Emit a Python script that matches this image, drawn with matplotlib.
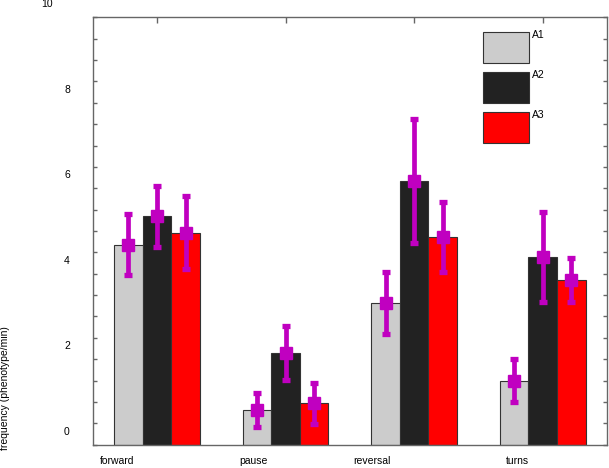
import numpy as np
import matplotlib
matplotlib.use('Agg')
import matplotlib.pyplot as plt
from matplotlib.patches import Rectangle

plt.rcParams['font.family'] = ['Liberation Sans', 'DejaVu Sans']

categories = ['forward', 'pause', 'reversal', 'turns']
series = ['A1', 'A2', 'A3']
a1 = [4.68, 0.81, 3.32, 1.50]
a2 = [5.34, 2.15, 6.17, 4.39]
a3 = [4.96, 0.97, 4.85, 3.85]
a1_err = [0.72, 0.39, 0.73, 0.50]
a2_err = [0.72, 0.63, 1.44, 1.06]
a3_err = [0.86, 0.48, 0.82, 0.52]
ytick_vals = [0, 2, 4, 6, 8, 10]

colors = ['#cccccc', '#222222', '#ff0000']
err_color = '#c000c0'
fs = 7.5

fig = plt.figure(figsize=(6.09, 4.68), dpi=100)
ax = fig.add_axes([0.1522, 0.0498, 0.8445, 0.9132])

x = np.arange(1, len(categories) + 1)
w = 2 / 9
vals = [a1, a2, a3]
errs = [a1_err, a2_err, a3_err]
for i in range(3):
    pos = x + (i - 1) * w
    ax.bar(pos, vals[i], width=w, color=colors[i], edgecolor='#333333',
           linewidth=0.8, zorder=2)
    ax.errorbar(pos, vals[i], yerr=errs[i], fmt='s', color=err_color,
                ms=9, elinewidth=3.4, capsize=3, capthick=3.8, zorder=3)

ax.set_xlim(0.5, 4.5)
ax.set_ylim(0, 10)
ax.set_axisbelow(True)
ax.set_xticks(x)
ax.set_xticklabels([])
ax.set_yticks(np.arange(0, 10.01, 0.5))
ax.set_yticklabels([])
ax.tick_params(axis='x', direction='in', top=True, bottom=True, length=4,
               color='#666666', width=1)
ax.tick_params(axis='y', direction='in', left=True, right=True, length=3,
               color='#666666', width=1)
for s in ax.spines.values():
    s.set_color('#666666')
    s.set_linewidth(1)

# y labels (shifted up relative to the ticks, as in the original)
px = 1 / 514.3
py = 1 / 427.4
for v in ytick_vals:
    xl = -0.089 if v == 10 else -0.050
    ax.text(xl, v / 10 + 13 * py, str(v), transform=ax.transAxes,
            ha='center', va='center', fontsize=fs)

# category labels
label_x = [0.0472, 0.3117, 0.543, 0.825]
for lx, c in zip(label_x, categories):
    ax.text(lx, -0.038, c, transform=ax.transAxes, ha='center',
            va='center', fontsize=fs)

fig.text(5 / 609, 1 - 388 / 468, 'frequency (phenotype/min)', rotation=90,
         ha='center', va='center', fontsize=fs)

# legend
for i, name in enumerate(series):
    top = 0.9663 - i * 0.0936
    ax.add_patch(Rectangle((0.7595, top - 0.0725), 0.0889, 0.0725,
                           transform=ax.transAxes, facecolor=colors[i],
                           edgecolor='#333333', linewidth=0.8, zorder=4))
    ax.text(0.854, top + 0.004, name, transform=ax.transAxes, ha='left',
            va='top', fontsize=fs)

fig.savefig('out.png', dpi=100)
